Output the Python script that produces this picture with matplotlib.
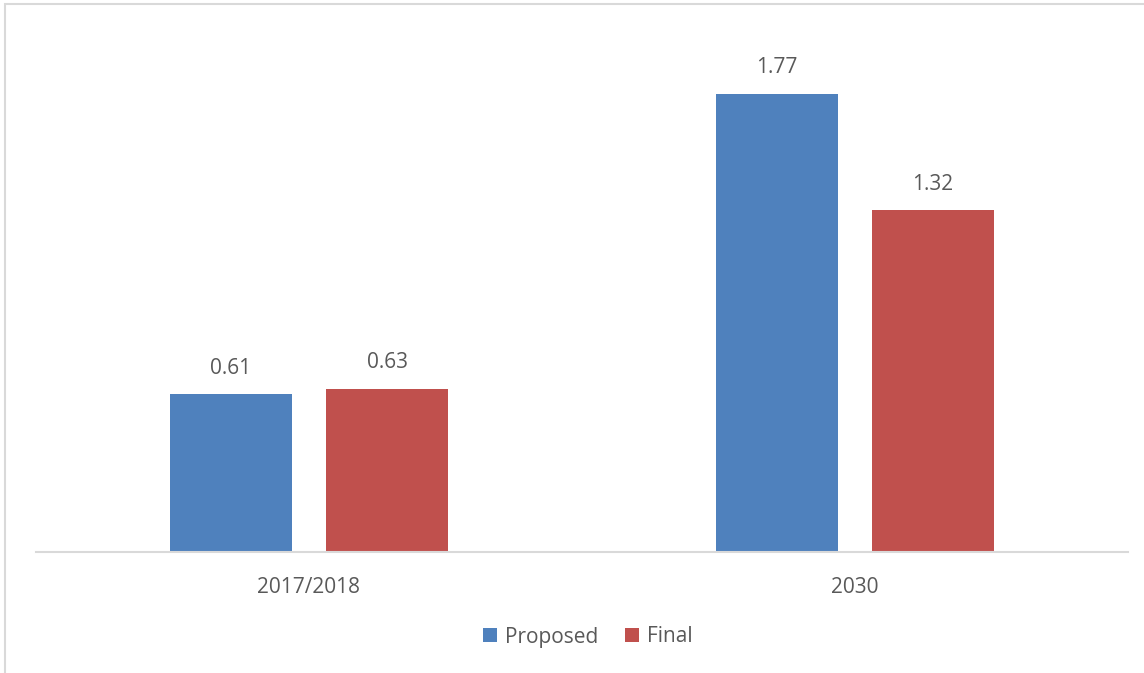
import matplotlib
matplotlib.use("Agg")
import matplotlib.pyplot as plt
from matplotlib.patches import Rectangle
import numpy as np

categories = ["2017/2018", "2030"]
proposed = [0.61, 1.77]
final = [0.63, 1.32]

blue = "#4f81bd"
red = "#c0504d"
text_gray = "#595959"

plt.rcParams["font.family"] = ["Open Sans", "DejaVu Sans"]

fig = plt.figure(figsize=(11.44, 6.73), dpi=100)
ax = fig.add_axes([36 / 1144, 121 / 673, 1092 / 1144, 518 / 673])

x = np.arange(len(categories))
w = 0.223
off = 0.143
b1 = ax.bar(x - off, proposed, w, color=blue, label="Proposed")
b2 = ax.bar(x + off, final, w, color=red, label="Final")

for bars, vals in ((b1, proposed), (b2, final)):
    for rect, v in zip(bars, vals):
        ax.text(rect.get_x() + rect.get_width() / 2, v + 0.1, "%.2f" % v,
                ha="center", va="center", fontsize=15, color=text_gray)

ax.set_xlim(-0.5, 1.5)
ax.set_ylim(0, 2.0)
ax.set_xticks(x)
ax.set_xticklabels(categories, fontsize=15, color=text_gray)
ax.tick_params(axis="x", length=0, pad=18)
ax.set_yticks([])
for s in ("top", "right", "left"):
    ax.spines[s].set_visible(False)
ax.spines["bottom"].set_color("#d9d9d9")
ax.spines["bottom"].set_linewidth(1.5)

leg = fig.legend(handles=[b1, b2], loc="center", bbox_to_anchor=(588 / 1144, 1 - 637 / 673),
                 ncol=2, frameon=False, fontsize=15, handlelength=0.65, handleheight=0.65,
                 handletextpad=0.4, columnspacing=1.3)
for t in leg.get_texts():
    t.set_color(text_gray)

# outer chart border, running off the right and bottom edges
fig.patches.append(Rectangle((5 / 1144, -0.1), 1.2, 1 - 4 / 673 + 0.1,
                             transform=fig.transFigure, fill=False,
                             edgecolor="#d9d9d9", linewidth=1.5))

fig.savefig("out.png", dpi=100)
